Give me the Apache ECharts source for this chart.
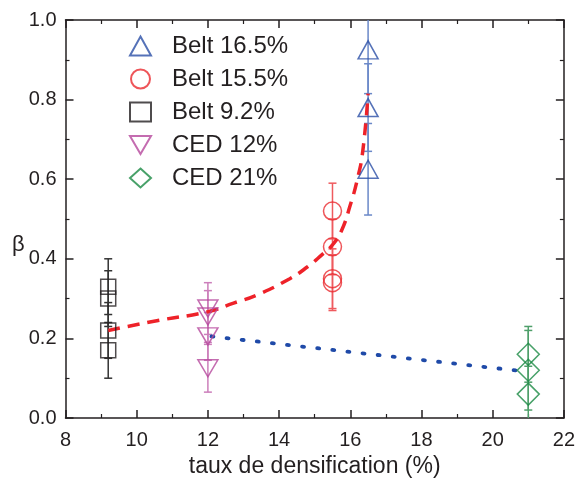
<!DOCTYPE html>
<html>
<head>
<meta charset="utf-8">
<script src="https://cdn.jsdelivr.net/npm/echarts@6/dist/echarts.min.js"></script>
<style>
html,body{margin:0;padding:0;background:#fff;}
#chart{width:578px;height:483px;}
</style>
</head>
<body>
<div id="chart"></div>
<script>
// ---- data ----
const seriesNames = ['Belt 16.5%', 'Belt 15.5%', 'Belt 9.2%', 'CED 12%', 'CED 21%'];
const belt165X = 16.5, belt165Y = [0.925, 0.78, 0.625], belt165Err = [0.11, 0.11, 0.115];
const belt155X = 15.5, belt155Y = [0.52, 0.43, 0.35, 0.34], belt155Err = [0.07, 0.07, 0.075, 0.07];
const belt92X = 9.2, belt92Y = [0.33, 0.30, 0.22, 0.17], belt92Err = [0.07, 0.07, 0.07, 0.07];
const ced12X = 12, ced12Y = [0.275, 0.255, 0.205, 0.125], ced12Err = [0.065, 0.065, 0.06, 0.06];
const ced21X = 21, ced21Y = [0.16, 0.12, 0.06], ced21Err = [0.07, 0.1, 0.07];
const beltFitX = [9.2, 10.6, 12.0, 12.7, 13.4, 14.3, 14.8, 15.2, 15.5, 15.75, 16.0, 16.2, 16.35, 16.5];
const beltFitY = [0.22, 0.245, 0.267, 0.288, 0.31, 0.35, 0.38, 0.41, 0.435, 0.47, 0.535, 0.6, 0.67, 0.815];
const cedFitX = [12.1, 20.8];
const cedFitY = [0.205, 0.118];
const xTicks = [8, 10, 12, 14, 16, 18, 20, 22];
const yTicks = [0.0, 0.2, 0.4, 0.6, 0.8, 1.0];
const yAxisTitle = 'β';
const xAxisTitle = 'taux de densification (%)';

// ---- styles ----
const FONT = 'Liberation Sans';
const AX = '#231f20';
const colors = {
  b165: '#2b4fa6', b155: '#ea2a2f', b92: '#231f20', c12: '#b5479c', c21: '#1a8a44'
};
const errColors = {
  b165: '#6a88c8', b155: '#ef5a5e', b92: '#333333', c12: '#cc7fbb', c21: '#4f9f6a'
};
const downTri = 'path://M0,0 L20,0 L10,17 Z';

function pts(x, ys) { return ys.map(v => [x, v]); }
function errPts(x, ys, es) { return ys.map((v, i) => [x, v, es[i]]); }
function zip(xs, ys) { return xs.map((x, i) => [x, ys[i]]); }

function errSeries(x, ys, es, color) {
  return {
    type: 'custom',
    xAxisIndex: 0, yAxisIndex: 0,
    clip: true,
    silent: true,
    z: 2,
    data: errPts(x, ys, es),
    renderItem: function (params, api) {
      const xv = api.value(0), yv = api.value(1), e = api.value(2);
      const top = api.coord([xv, yv + e]);
      const bot = api.coord([xv, yv - e]);
      const hw = 4;
      const st = { stroke: color, lineWidth: 1.5 };
      return {
        type: 'group',
        children: [
          { type: 'line', shape: { x1: top[0], y1: top[1], x2: bot[0], y2: bot[1] }, style: st },
          { type: 'line', shape: { x1: top[0] - hw, y1: top[1], x2: top[0] + hw, y2: top[1] }, style: st },
          { type: 'line', shape: { x1: bot[0] - hw, y1: bot[1], x2: bot[0] + hw, y2: bot[1] }, style: st }
        ]
      };
    }
  };
}

function scatterSeries(name, x, ys, symbol, size, color) {
  return {
    name: name,
    type: 'scatter',
    xAxisIndex: 0, yAxisIndex: 0,
    symbol: symbol,
    symbolSize: size,
    z: 5,
    itemStyle: { color: 'rgba(255,255,255,0)', borderColor: color, borderWidth: 1.5 },
    emphasis: { disabled: true },
    data: pts(x, ys)
  };
}

const chart = echarts.init(document.getElementById('chart'), null, { renderer: 'canvas' });

const axisCommon = {
  axisLine: { show: true, onZero: false, lineStyle: { color: AX, width: 1.5 } },
  axisTick: { show: true, inside: true, length: 8, lineStyle: { color: AX, width: 1.5 } },
  minorTick: { show: true, splitNumber: 2, length: 4, lineStyle: { color: AX, width: 1.2 } },
  splitLine: { show: false }
};

chart.setOption({
  animation: false,
  backgroundColor: '#ffffff',
  grid: { left: 65.5, right: 11, top: 20, bottom: 60, containLabel: false },
  graphic: [
    { type: 'text', left: 12, top: 234, silent: true,
      style: { text: yAxisTitle, fontFamily: FONT, fontSize: 22, fill: AX } }
  ],
  legend: {
    orient: 'vertical',
    left: 124,
    top: 29,
    itemWidth: 21,
    itemHeight: 19,
    itemGap: 9,
    data: seriesNames,
    selectedMode: false,
    textStyle: { fontFamily: FONT, fontSize: 24, color: AX, padding: [0, 0, 0, 16] }
  },
  xAxis: [
    Object.assign({
      type: 'value', min: 8, max: 22, interval: 2, position: 'bottom',
      name: xAxisTitle, nameLocation: 'middle', nameGap: 37,
      nameTextStyle: { fontFamily: FONT, fontSize: 23, color: AX },
      axisLabel: {
        fontFamily: FONT, fontSize: 20, color: AX, margin: 12,
        formatter: v => (xTicks.indexOf(v) >= 0 ? String(v) : '')
      }
    }, axisCommon),
    Object.assign({
      type: 'value', min: 8, max: 22, interval: 2, position: 'top',
      axisLabel: { show: false }
    }, axisCommon)
  ],
  yAxis: [
    Object.assign({
      type: 'value', min: 0, max: 1, interval: 0.2, position: 'left',
      axisLabel: {
        fontFamily: FONT, fontSize: 20, color: AX, margin: 9,
        formatter: v => {
          const t = yTicks.find(tk => Math.abs(tk - v) < 1e-9);
          return t === undefined ? '' : t.toFixed(1);
        }
      }
    }, axisCommon),
    Object.assign({
      type: 'value', min: 0, max: 1, interval: 0.2, position: 'right',
      axisLabel: { show: false }
    }, axisCommon)
  ],
  series: [
    errSeries(belt165X, belt165Y, belt165Err, errColors.b165),
    errSeries(belt155X, belt155Y, belt155Err, errColors.b155),
    errSeries(belt92X, belt92Y, belt92Err, errColors.b92),
    errSeries(ced12X, ced12Y, ced12Err, errColors.c12),
    errSeries(ced21X, ced21Y, ced21Err, errColors.c21),
    {
      type: 'line', xAxisIndex: 0, yAxisIndex: 0, smooth: true, symbol: 'none', z: 4, silent: true,
      lineStyle: { color: '#ee2229', width: 3.5, type: [12, 8] },
      data: zip(beltFitX, beltFitY)
    },
    {
      type: 'line', xAxisIndex: 0, yAxisIndex: 0, symbol: 'none', z: 4, silent: true,
      lineStyle: { color: '#1f4aa8', width: 3.8, type: [2, 13.2], cap: 'round' },
      data: zip(cedFitX, cedFitY)
    },
    scatterSeries(seriesNames[0], belt165X, belt165Y, 'triangle', [20, 18], colors.b165),
    scatterSeries(seriesNames[1], belt155X, belt155Y, 'circle', 18, colors.b155),
    scatterSeries(seriesNames[2], belt92X, belt92Y, 'rect', 15, colors.b92),
    scatterSeries(seriesNames[3], ced12X, ced12Y, downTri, [20, 17], colors.c12),
    scatterSeries(seriesNames[4], ced21X, ced21Y, 'diamond', [22, 22], colors.c21)
  ]
});
</script>
</body>
</html>
